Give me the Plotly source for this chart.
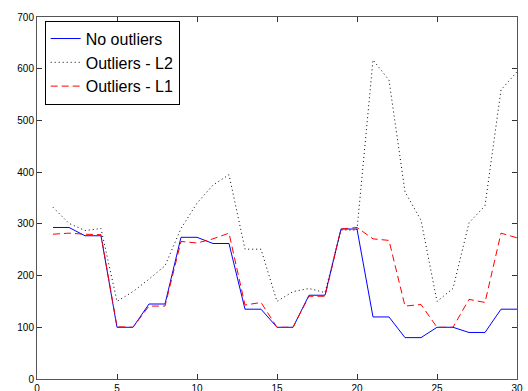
import plotly.graph_objects as go

x = list(range(1, 31))
no_outliers = [293, 293, 277, 277, 100, 100, 145, 145, 274, 274,
               262, 262, 135, 135, 100, 100, 162, 162, 290, 290,
               120, 120, 80, 80, 100, 100, 90, 90, 135, 135]
outliers_l2 = [332, 301, 287, 291, 150, 169, 193, 219, 291, 340,
               375, 395, 251, 251, 150, 169, 175, 167, 288, 288,
               617, 578, 362, 307, 150, 175, 302, 335, 559, 594]
outliers_l1 = [280, 282, 280, 279, 101, 100, 141, 141, 266, 263,
               271, 282, 143, 148, 100, 100, 160, 160, 290, 293,
               271, 268, 141, 144, 100, 100, 154, 148, 282, 273]

fig = go.Figure()
fig.add_trace(go.Scatter(x=x, y=no_outliers, mode="lines", name="No outliers",
                         line=dict(color="#0000FF", width=1)))
fig.add_trace(go.Scatter(x=x, y=outliers_l2, mode="lines", name="Outliers - L2",
                         line=dict(color="#000000", width=1, dash="1px,3px")))
fig.add_trace(go.Scatter(x=x, y=outliers_l1, mode="lines", name="Outliers - L1",
                         line=dict(color="#FF0000", width=1, dash="7px,4px")))

axis_common = dict(showgrid=False, zeroline=False, showline=True, linecolor="#555555",
                   linewidth=1, mirror="ticks", ticks="inside", ticklen=5, automargin=False,
                   tickcolor="#333333", tickfont=dict(family="Liberation Sans, Arial", size=10, color="#000000"))
fig.update_xaxes(range=[0, 30], tickvals=[0, 5, 10, 15, 20, 25, 30], **axis_common)
fig.update_yaxes(range=[0, 700], tickvals=[0, 100, 200, 300, 400, 500, 600, 700], **axis_common)

fig.update_layout(
    width=528, height=391,
    margin=dict(l=37, r=11, t=17, b=12, autoexpand=False),
    paper_bgcolor="white", plot_bgcolor="white",
    font=dict(family="Liberation Sans, Arial", color="#000000"),
    legend=dict(x=0.016, y=0.99, xanchor="left", yanchor="top",
                bordercolor="#000000", borderwidth=1, bgcolor="white",
                font=dict(size=16), tracegroupgap=0, itemwidth=30),
    showlegend=True,
)

fig.write_html("out.html", config={"displayModeBar": False},
               post_script="document.body.style.margin='0';document.body.style.overflow='hidden';")
